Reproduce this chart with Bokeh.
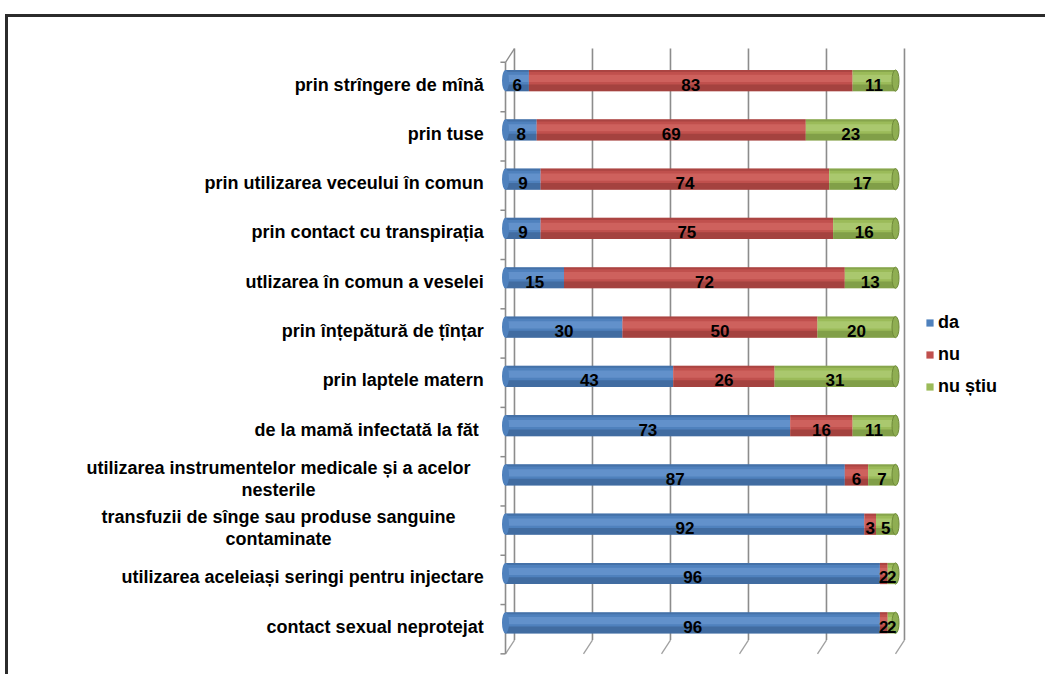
import numpy as np
from bokeh.plotting import figure
from bokeh.models import ColumnDataSource, Range1d, Legend, LegendItem
from bokeh.core.properties import value
from bokeh.embed import file_html
from bokeh.resources import INLINE

# categories, top to bottom
categories = [
    "prin strîngere de mînă",
    "prin tuse",
    "prin utilizarea veceului în comun",
    "prin contact cu transpirația",
    "utlizarea în comun a veselei",
    "prin înțepătură de țînțar",
    "prin laptele matern",
    "de la mamă infectată la făt ",
    "utilizarea instrumentelor medicale și a acelor\nnesterile",
    "transfuzii de sînge sau produse sanguine\ncontaminate",
    "utilizarea aceleiași seringi pentru injectare",
    "contact sexual neprotejat",
]
da = [6, 8, 9, 9, 15, 30, 43, 73, 87, 92, 96, 96]
nu = [83, 69, 74, 75, 72, 50, 26, 16, 6, 3, 2, 2]
nu_stiu = [11, 23, 17, 16, 13, 20, 31, 11, 7, 5, 2, 2]
series_names = ["da", "nu", "nu știu"]
x_ticks = [0, 20, 40, 60, 80, 100]

# styling
colors = ["#4F81BD", "#C0504D", "#9BBB59"]
light = ["#7aa5dc", "#e07672", "#bcd987"]
dark = ["#2c4d78", "#7a2c2a", "#5b7530"]
FONT = "Liberation Sans"
BAR_H = 0.43
DEPTH_X, DEPTH_Y = 2.3, 0.28      # 3-D depth of the back wall (data units)
WALL_SHIFT = -0.13                 # perspective shift of category boundaries
LABEL_RIGHT, LABEL_CENTER = -5.6, -58.2   # label column positions (x data units)
GRID_COLOR = "#8c8c8c"

n = len(categories)
ypos = np.arange(n)[::-1].astype(float)  # first category at the top
bounds = np.concatenate([ypos - 0.5, [ypos[0] + 0.5]]) + WALL_SHIFT
floor_y, top_y = bounds.min(), bounds.max()
vals = np.array([da, nu, nu_stiu], dtype=float)
rights = np.cumsum(vals, axis=0)
lefts = rights - vals

W, H = 1040, 660
p = figure(
    width=W, height=H, title=None,
    x_range=Range1d(-127.44, 139.23), y_range=Range1d(-1.11, 12.28),
    x_axis_type=None, y_axis_type=None,
    output_backend="svg", toolbar_location=None, min_border=0,
)
p.styles = {"border-top": "3px solid #2b2b2b", "border-left": "3px solid #2b2b2b",
            "margin-top": "14px", "margin-left": "5px"}
p.outline_line_color = None
p.background_fill_color = "white"
p.border_fill_color = "white"

# back-wall grid lines and floor depth lines
gx = np.array(x_ticks, dtype=float)
p.segment(x0=gx + DEPTH_X, y0=np.full(len(gx), floor_y + DEPTH_Y),
          x1=gx + DEPTH_X, y1=np.full(len(gx), top_y + DEPTH_Y),
          line_color=GRID_COLOR, line_width=1.6)
p.segment(x0=gx, y0=np.full(len(gx), floor_y), x1=gx + DEPTH_X, y1=np.full(len(gx), floor_y + DEPTH_Y),
          line_color="#a0a0a0", line_width=1.3)
# category axis (left wall edge) with boundary ticks
p.segment(x0=[0], y0=[floor_y], x1=[0], y1=[top_y], line_color=GRID_COLOR, line_width=1.6)
p.segment(x0=[0], y0=[top_y], x1=[DEPTH_X], y1=[top_y + DEPTH_Y], line_color=GRID_COLOR, line_width=1.3)
p.segment(x0=np.zeros(len(bounds)), y0=bounds, x1=np.full(len(bounds), -1.3), y1=bounds,
          line_color=GRID_COLOR, line_width=1.5)

# stacked cylinder bars
items = []
for i, name in enumerate(series_names):
    src = ColumnDataSource(dict(y=ypos, y_lo=ypos - BAR_H * 0.34, y_hi=ypos + BAR_H * 0.1,
                                y_top=ypos + BAR_H * 0.45, left=lefts[i], right=rights[i]))
    r = p.hbar(y="y", left="left", right="right", height=BAR_H, source=src,
               fill_color=colors[i], line_color=None)
    p.hbar(y="y_lo", left="left", right="right", height=BAR_H * 0.32, source=src,
           fill_color=dark[i], fill_alpha=0.4, line_color=None)
    p.hbar(y="y_hi", left="left", right="right", height=BAR_H * 0.34, source=src,
           fill_color=light[i], fill_alpha=0.45, line_color=None)
    p.hbar(y="y_top", left="left", right="right", height=BAR_H * 0.1, source=src,
           fill_color=dark[i], fill_alpha=0.3, line_color=None)
    items.append(LegendItem(label=name, renderers=[r]))

# cylinder end caps
cap_src = ColumnDataSource(dict(y=ypos, start=lefts[0], end=rights[-1]))
p.ellipse(x="start", y="y", width=1.8, height=BAR_H, source=cap_src,
          fill_color=colors[0], line_color=None)
p.ellipse(x="end", y="y", width=1.8, height=BAR_H, source=cap_src,
          fill_color="#8fae52", line_color="#6f8a3a", line_width=1)

# value labels
for i in range(3):
    src = ColumnDataSource(dict(y=ypos, mid=(lefts[i] + rights[i]) / 2,
                                val=[str(int(v)) for v in vals[i]]))
    p.text(x="mid", y="y", text="val", source=src, text_align="center", text_baseline="middle",
           y_offset=4, text_font=value(FONT), text_font_style="bold", text_font_size="17px",
           text_color="black")

# category labels (single-line right aligned, wrapped ones centred)
single = [k for k, c in enumerate(categories) if "\n" not in c]
multi = [k for k, c in enumerate(categories) if "\n" in c]
src_s = ColumnDataSource(dict(y=ypos[single], x=np.full(len(single), LABEL_RIGHT),
                              t=[categories[k] for k in single]))
src_m = ColumnDataSource(dict(y=ypos[multi], x=np.full(len(multi), LABEL_CENTER),
                              t=[categories[k] for k in multi]))
p.text(x="x", y="y", text="t", source=src_s, text_align="right", text_baseline="middle",
       y_offset=4, text_font=value(FONT), text_font_style="bold", text_font_size="18px",
       text_color="black")
p.text(x="x", y="y", text="t", source=src_m, text_align="center", text_baseline="middle",
       y_offset=4, text_font=value(FONT), text_font_style="bold", text_font_size="18px",
       text_color="black", text_line_height=1.12)

legend = Legend(items=items, location=(917, 280), border_line_color=None,
                background_fill_alpha=0,
                label_text_font=FONT, label_text_font_style="bold", label_text_font_size="18px",
                label_text_color="black",
                glyph_width=9, glyph_height=9, label_height=20, spacing=11, padding=0, margin=0,
                label_standoff=4)
p.add_layout(legend)

open("out.html", "w").write(file_html(p, INLINE))
